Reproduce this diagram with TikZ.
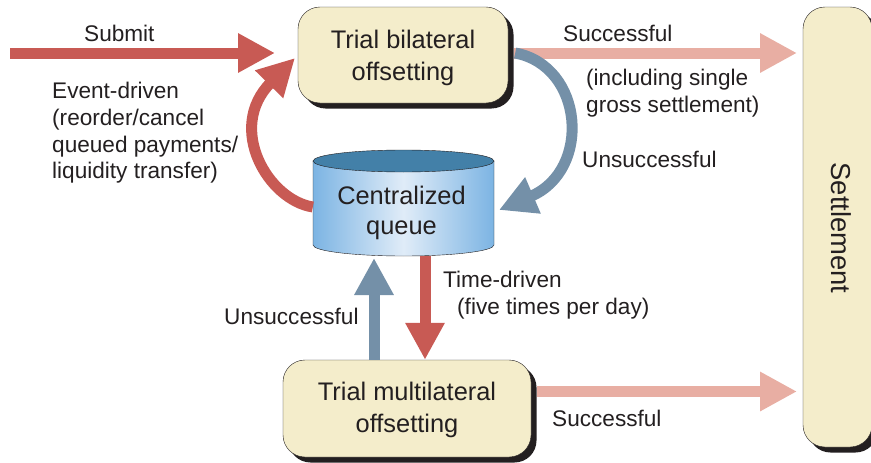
\documentclass[tikz,border=0pt]{standalone}
\usepackage{fontspec}
\setmainfont{Liberation Sans}
\usetikzlibrary{arrows.meta}
\usetikzlibrary{shadows}
\definecolor{boxfill}{HTML}{F4EDCB}
\definecolor{redarrow}{HTML}{C85A54}
\definecolor{palearrow}{HTML}{E8AEA3}
\definecolor{bluearrow}{HTML}{7490A8}
\definecolor{queuetop}{HTML}{4380A8}
\definecolor{queueside}{HTML}{7CB4E3}
\definecolor{queuemid}{HTML}{E0ECF8}
\definecolor{inktext}{HTML}{231F20}
\tikzset{
    trialbox/.style={draw=inktext, fill=boxfill, rounded corners=22pt, align=center,
        font=\fontsize{25.4}{31.5}\selectfont, text=inktext,
        drop shadow={shadow xshift=5.5pt, shadow yshift=-5.5pt, fill=inktext, opacity=1}},
    flow/.style={line width=11pt, -{Triangle[length=37pt, width=37pt]}},
    lbl/.style={anchor=west, align=left, text=inktext, inner sep=0pt,
        font=\fontsize{22.6}{26.7}\selectfont}
}
\begin{document}
\begin{tikzpicture}[x=1pt, y=-1pt]
\useasboundingbox (0,0) rectangle (871,463);

%%% boites

\node[trialbox, minimum width=210pt, minimum height=96pt] (bilateral) at (403,55) {\rule{0pt}{24pt}Trial bilateral\\offsetting};
\node[trialbox, minimum width=248pt, minimum height=97pt] (multilateral) at (407,408.5) {\rule{0pt}{21pt}Trial multilateral\\offsetting};
\node[trialbox, minimum width=69pt, minimum height=440pt] (settlement) at (837.5,227) {};

% queue
\draw[draw=inktext, left color=queueside, right color=queueside, middle color=queuemid]
    (313,161) -- (313,245) arc[start angle=180, end angle=0, x radius=90.5, y radius=11] -- (494,161) -- cycle;
\draw[draw=inktext, fill=queuetop] (403.5,161) ellipse[x radius=90.5, y radius=11];
\node[align=center, font=\fontsize{25.4}{30.5}\selectfont, text=inktext, minimum width=181pt, minimum height=90pt] (queue) at (401.5,213) {Centralized\\queue};

\node[font=\fontsize{27.4}{31}\selectfont, text=inktext, rotate=-90] (settlementtext) at (841,228) {Settlement};

%%% liens

\coordinate (submitstart) at (10,53);
\coordinate (submitend) at (275,53);
\coordinate (okend) at (797,53);
\coordinate (okendb) at (797,391.5);

\draw[flow, redarrow] (submitstart) -- (submitend);
\draw[flow, palearrow] ([xshift=6pt, yshift=2pt]bilateral.east) -- (okend);
\draw[flow, palearrow] ([xshift=6pt, yshift=17pt]multilateral.east) -- (okendb);

\coordinate (eventend) at (295,58);
\coordinate (failend) at (499,210);
\draw[flow, redarrow] ([xshift=2pt, yshift=6pt]queue.west) .. controls (268,200) and (226,128) .. (eventend);
\draw[flow, bluearrow] ([xshift=7pt, yshift=2pt]bilateral.east) .. controls (584,66) and (592,170) .. (failend);

\draw[flow, bluearrow] (multilateral.north -| 374,0) -- (374,258);
\draw[flow, redarrow] (425,256) -- (multilateral.north -| 425,0);

%%% textes

\node[lbl] (submitlbl) at (84,33) {Submit};
\node[lbl] (eventlbl) at (52,133) {Event-driven\\(reorder/cancel\\queued payments/\\liquidity transfer)};
\node[lbl] (oklbl) at (563,33) {Successful};
\node[lbl] (singlelbl) at (586,93.5) {(including single\\gross settlement)};
\node[lbl] (faillbl) at (582,159.5) {Unsuccessful};
\node[lbl] (timelbl) at (443,295) {Time-driven\\\hspace*{14pt}(five times per day)};
\node[lbl] (faillblb) at (224,316.5) {Unsuccessful};
\node[lbl] (oklblb) at (552,418.5) {Successful};
\end{tikzpicture}
\end{document}
